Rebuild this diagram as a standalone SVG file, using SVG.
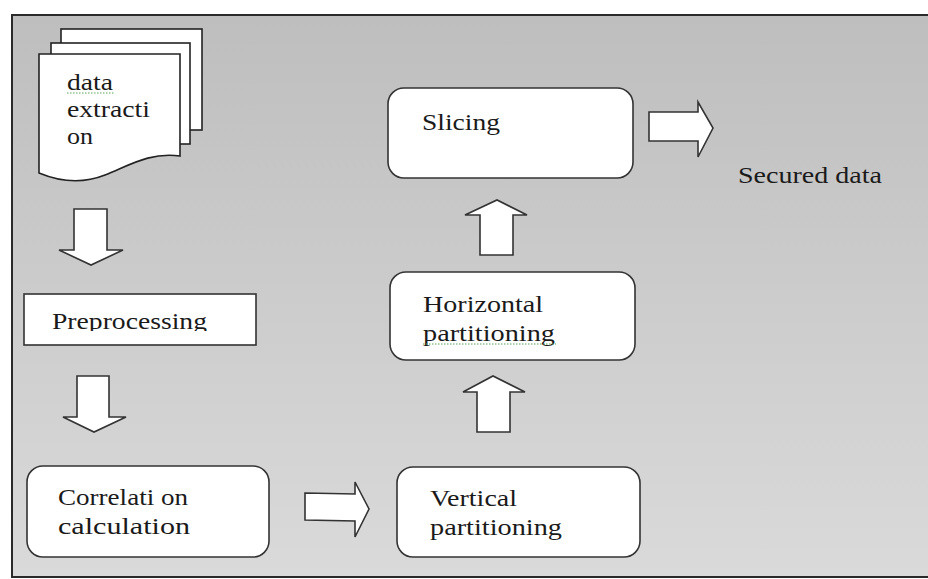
<svg xmlns="http://www.w3.org/2000/svg" width="928" height="579" viewBox="0 0 928 579">
  <defs>
    <linearGradient id="bg" x1="0" y1="0" x2="0" y2="1">
      <stop offset="0" stop-color="#bebebe"/>
      <stop offset="1" stop-color="#dadada"/>
    </linearGradient>
    <clipPath id="preClip">
      <rect x="24" y="294" width="232" height="37"/>
    </clipPath>
  </defs>
  <style>
    .box { fill: #ffffff; stroke: #333333; stroke-width: 1.6; }
    .page { fill: #ffffff; stroke: #222222; stroke-width: 1.6; }
    .arrow { fill: #ffffff; stroke: #333333; stroke-width: 1.6; stroke-linejoin: miter; }
    .t { font-family: "Liberation Serif", "Times New Roman", serif; font-size: 23px; fill: #1a1a1a; }
    .squiggle { fill: none; stroke: #5aa05a; stroke-width: 1; stroke-dasharray: 1.5 1.5; }
  </style>
  <rect x="0" y="0" width="928" height="579" fill="#ffffff"/>
  <rect id="frame" x="12" y="15" width="930" height="562" fill="url(#bg)" stroke="#2a2a2a" stroke-width="2"/>

  <g id="data-extraction">
    <rect class="page" x="61" y="29" width="141" height="101"/>
    <rect class="page" x="51" y="43" width="139" height="101"/>
    <path class="page" d="M39,54 H180 V156 C150,152 130,165 105,175 C90,181 68,185 39,173 Z"/>
    <text class="t" x="67" y="90" textLength="46" lengthAdjust="spacingAndGlyphs">data</text>
    <line class="squiggle" x1="67" y1="93" x2="114" y2="93"/>
    <text class="t" x="67" y="117" textLength="83" lengthAdjust="spacingAndGlyphs">extracti</text>
    <text class="t" x="67" y="144" textLength="26" lengthAdjust="spacingAndGlyphs">on</text>
  </g>

  <g id="preprocessing">
    <rect class="box" x="24" y="294" width="232" height="51"/>
    <text class="t" x="52" y="329" textLength="155" lengthAdjust="spacingAndGlyphs" clip-path="url(#preClip)">Preprocessing</text>
  </g>

  <g id="correlation">
    <rect class="box" x="27" y="466" width="242" height="91" rx="16" ry="16"/>
    <text class="t" x="58" y="505" textLength="130" lengthAdjust="spacingAndGlyphs">Correlati on</text>
    <text class="t" x="58" y="534" textLength="132" lengthAdjust="spacingAndGlyphs">calculation</text>
  </g>

  <g id="vertical">
    <rect class="box" x="397" y="467" width="243" height="90" rx="16" ry="16"/>
    <text class="t" x="430" y="506" textLength="87" lengthAdjust="spacingAndGlyphs">Vertical</text>
    <text class="t" x="430" y="535" textLength="132" lengthAdjust="spacingAndGlyphs">partitioning</text>
  </g>

  <g id="horizontal">
    <rect class="box" x="390" y="272" width="245" height="88" rx="16" ry="16"/>
    <text class="t" x="423" y="312" textLength="120" lengthAdjust="spacingAndGlyphs">Horizontal</text>
    <text class="t" x="423" y="341" textLength="132" lengthAdjust="spacingAndGlyphs">partitioning</text>
    <line class="squiggle" x1="423" y1="344" x2="556" y2="344"/>
  </g>

  <g id="slicing">
    <rect class="box" x="388" y="88" width="245" height="90" rx="16" ry="16"/>
    <text class="t" x="422" y="130" textLength="78" lengthAdjust="spacingAndGlyphs">Slicing</text>
  </g>

  <g id="secured-data">
    <text class="t" x="738" y="183" textLength="144" lengthAdjust="spacingAndGlyphs">Secured data</text>
  </g>

  <g id="connectors">
    <polygon class="arrow" points="74,209 107,209 107,250 123,250 91,265 59,250 74,250"/>
    <polygon class="arrow" points="77,376 109,376 109,417 126,417 94,432 63,417 77,417"/>
    <polygon class="arrow" points="305,493 355,494 355,482 369,509 355,537 355,521 305,520"/>
    <polygon class="arrow" points="477,432 510,432 510,392 525,392 493,376 463,392 477,392"/>
    <polygon class="arrow" points="480,255 513,255 513,215 527,215 497,200 465,215 480,215"/>
    <polygon class="arrow" points="649,112 698,112 698,102 713,128 698,157 698,141 649,141"/>
  </g>
</svg>
